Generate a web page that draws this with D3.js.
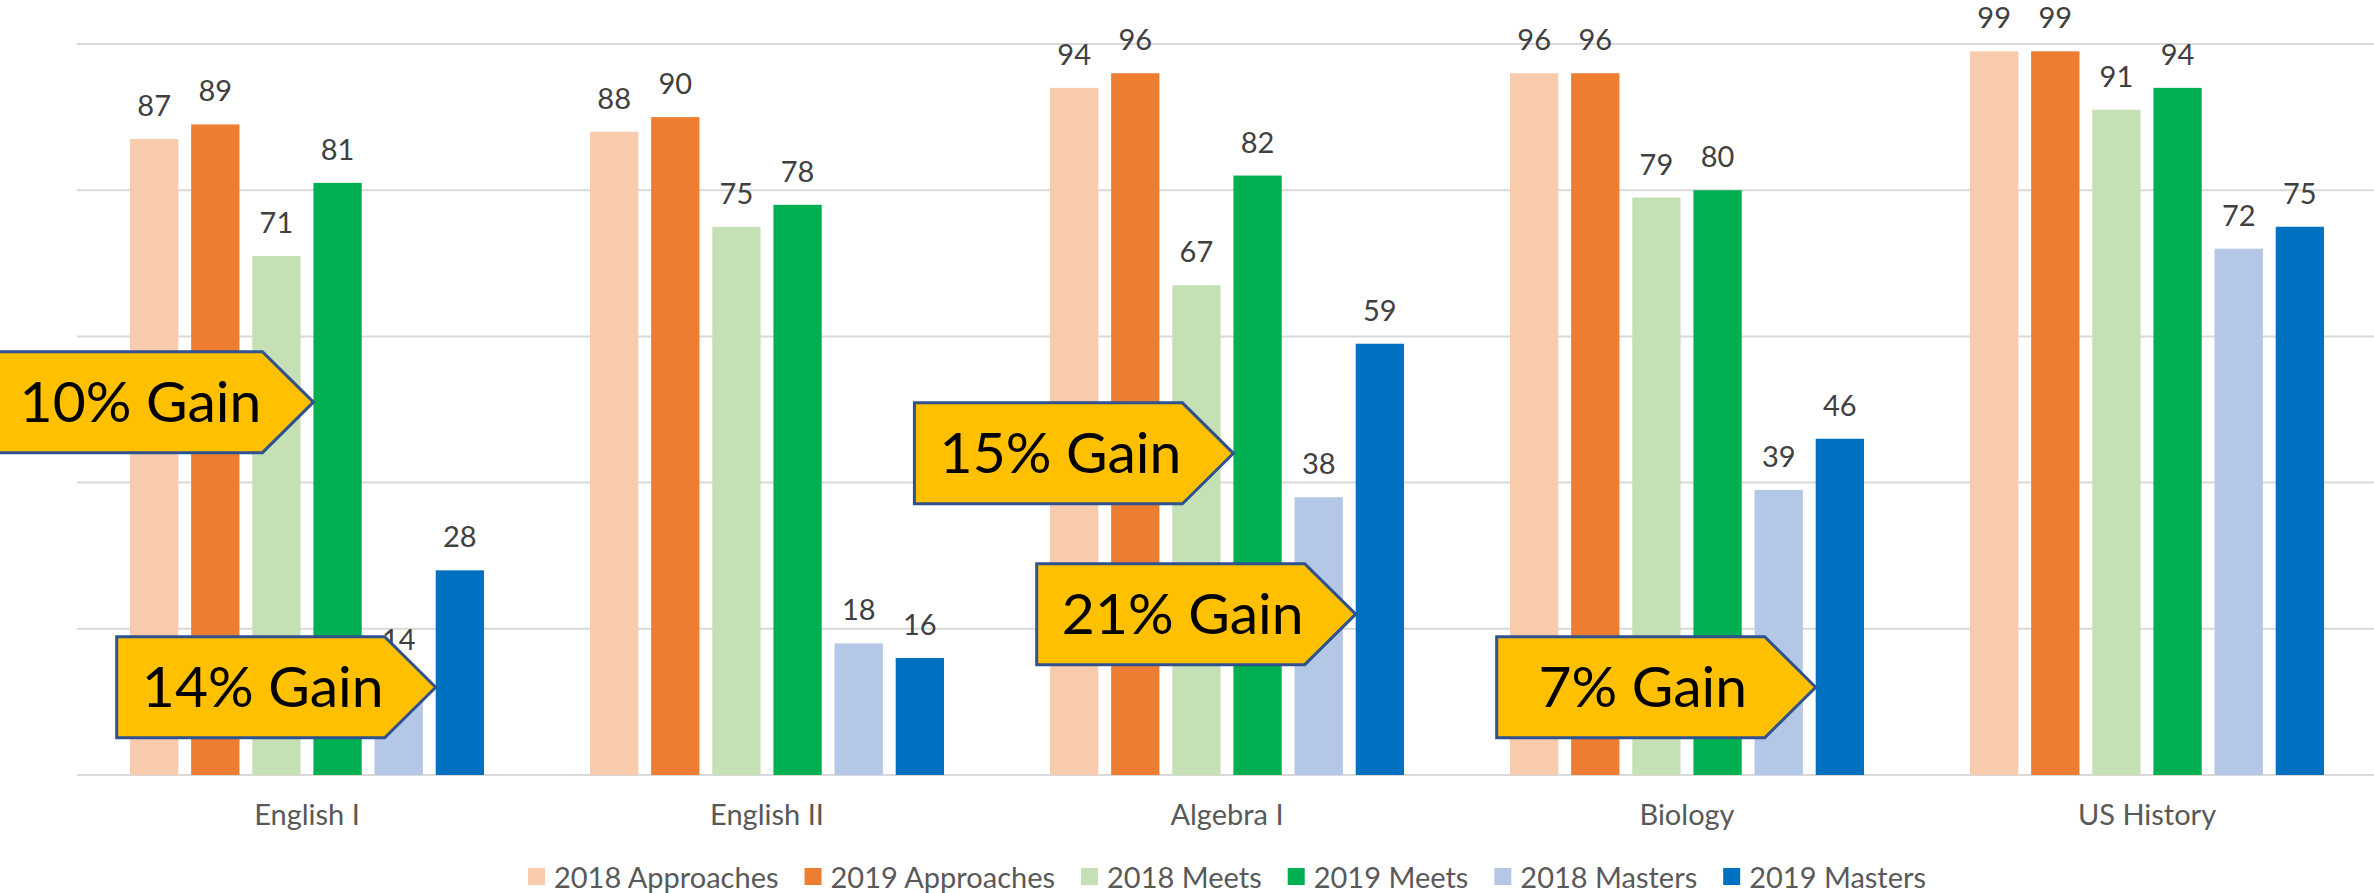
<!DOCTYPE html>
<html>
<head>
    <title>STAAR EOC Results 2018 vs 2019</title>
    <script src="https://d3js.org/d3.v7.min.js"></script>
    <style>
        body { margin: 0; background: #fff; }
        svg { display: block; font-family: Lato, "Open Sans", sans-serif; }
        .grid line { stroke: #d9d9d9; stroke-width: 2; }
        .value-label { font-size: 29px; fill: #404040; text-anchor: middle; }
        .cat-label { font-size: 29px; fill: #595959; text-anchor: middle; }
        .legend text { font-size: 29px; fill: #595959; }
        .callout path { fill: #ffc000; stroke: #2f528f; stroke-width: 3; }
        .callout text { font-size: 57px; fill: #000; text-anchor: middle; }
    </style>
</head>
<body>
    <svg width="2374" height="893"></svg>
    <script>
        // data
        var categories = ["English I", "English II", "Algebra I", "Biology", "US History"];
        var seriesNames = ["2018 Approaches", "2019 Approaches", "2018 Meets", "2019 Meets", "2018 Masters", "2019 Masters"];
        var approaches2018 = [87, 88, 94, 96, 99];
        var approaches2019 = [89, 90, 96, 96, 99];
        var meets2018 = [71, 75, 67, 79, 91];
        var meets2019 = [81, 78, 82, 80, 94];
        var masters2018 = [14, 18, 38, 39, 72];
        var masters2019 = [28, 16, 59, 46, 75];
        var yTicks = [0, 20, 40, 60, 80, 100];
        var colors = ["#f8cbad", "#ed7d31", "#c5e0b4", "#00b050", "#b4c7e7", "#0070c0"];

        // callouts: arrow tip sits on the left edge of the named bar at the given value
        var calloutText = ["10% Gain", "14% Gain", "15% Gain", "21% Gain", "7% Gain"];
        var calloutCategory = ["English I", "English I", "Algebra I", "Algebra I", "Biology"];
        var calloutSeries = ["2019 Meets", "2019 Masters", "2019 Meets", "2019 Masters", "2019 Masters"];
        var calloutValue = [51, 12, 44, 22, 12];

        var seriesValues = [approaches2018, approaches2019, meets2018, meets2019, masters2018, masters2019];

        var svg = d3.select("svg"),
            width = +svg.attr("width");

        var x0 = d3.scaleBand().domain(categories).range([77, 2377]);
        var x1 = d3.scaleBand().domain(seriesNames).range([53, 407]).paddingInner(0.21);
        var y = d3.scaleLinear().domain([0, 100]).range([775, 44]);
        var color = d3.scaleOrdinal().domain(seriesNames).range(colors);

        var data = [];
        categories.forEach(function(c, i) {
            seriesNames.forEach(function(s, j) {
                data.push({category: c, series: s, value: seriesValues[j][i]});
            });
        });

        // gridlines
        svg.append("g")
            .attr("class", "grid")
            .selectAll("line")
            .data(yTicks)
            .enter().append("line")
            .attr("x1", 77)
            .attr("x2", width)
            .attr("y1", d => y(d))
            .attr("y2", d => y(d));

        // bars
        svg.append("g")
            .selectAll("rect")
            .data(data)
            .enter().append("rect")
            .attr("x", d => x0(d.category) + x1(d.series))
            .attr("y", d => y(d.value))
            .attr("width", x1.bandwidth())
            .attr("height", d => y(0) - y(d.value))
            .style("fill", d => color(d.series));

        // value labels
        svg.append("g")
            .selectAll("text")
            .data(data)
            .enter().append("text")
            .attr("class", "value-label")
            .attr("x", d => x0(d.category) + x1(d.series) + x1.bandwidth() / 2)
            .attr("y", d => y(d.value) - 23)
            .text(d => d.value);

        // category labels
        svg.append("g")
            .selectAll("text")
            .data(categories)
            .enter().append("text")
            .attr("class", "cat-label")
            .attr("x", d => x0(d) + x0.bandwidth() / 2)
            .attr("y", 825)
            .text(d => d);

        // callout arrows
        var callouts = calloutText.map(function(t, i) {
            return {text: t, tipX: x0(calloutCategory[i]) + x1(calloutSeries[i]), tipY: y(calloutValue[i])};
        });

        var cg = svg.append("g")
            .selectAll("g")
            .data(callouts)
            .enter().append("g")
            .attr("class", "callout")
            .attr("transform", d => `translate(${d.tipX},${d.tipY})`);

        cg.append("path")
            .attr("d", "M0,0 L-51,-50.5 L-319,-50.5 L-319,50.5 L-51,50.5 Z");

        cg.append("text")
            .attr("x", -173)
            .attr("y", 20)
            .text(d => d.text);

        // legend, centred under the plot
        var legend = svg.append("g").attr("class", "legend");
        var items = legend.selectAll("g")
            .data(seriesNames)
            .enter().append("g");

        items.append("rect")
            .attr("width", 17)
            .attr("height", 17)
            .attr("y", 868)
            .style("fill", color);

        items.append("text")
            .attr("x", 26)
            .attr("y", 888)
            .text(d => d);

        var offset = 0;
        items.each(function() {
            var g = d3.select(this);
            var w = 26 + g.select("text").node().getComputedTextLength();
            g.attr("transform", `translate(${offset},0)`);
            offset += w + 26;
        });
        var total = offset - 26;
        legend.attr("transform", `translate(${1227 - total / 2},0)`);
    </script>
</body>
</html>
